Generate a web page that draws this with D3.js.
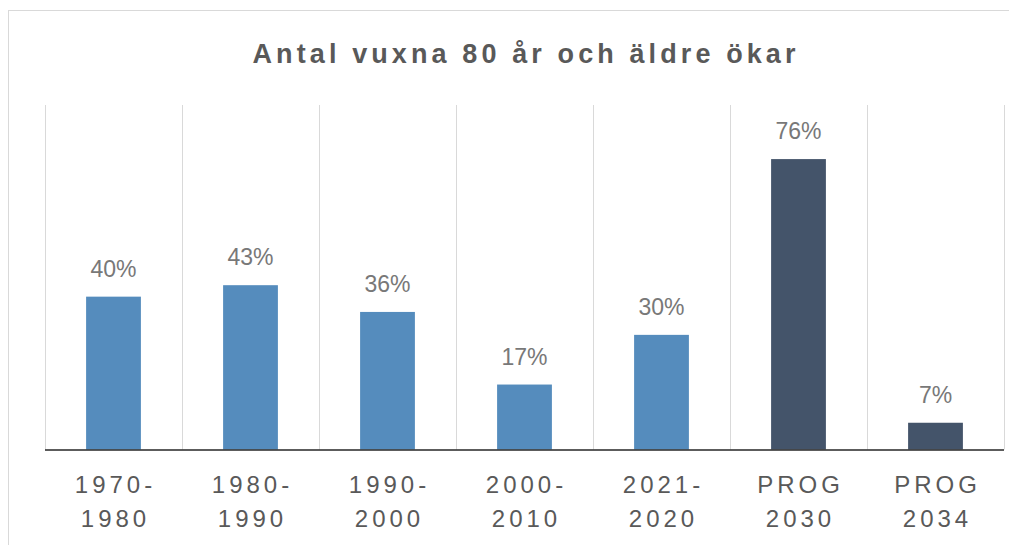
<!DOCTYPE html>
<html>
<head>
<meta charset="utf-8">
<script src="https://cdn.jsdelivr.net/npm/d3@7"></script>
<style>
  body { margin: 0; background: #fff; }
  svg { display: block; }
</style>
</head>
<body>
<svg id="chart"></svg>
<script>
const width = 1009;
const height = 545;

// data
const title = "Antal vuxna 80 år och äldre ökar";
const categories = ["1970-1980", "1980-1990", "1990-2000", "2000-2010", "2021-2020", "PROG 2030", "PROG 2034"];
const tickLines = [["1970-", "1980"], ["1980-", "1990"], ["1990-", "2000"], ["2000-", "2010"], ["2021-", "2020"], ["PROG", "2030"], ["PROG", "2034"]];
const values = [40, 43, 36, 17, 30, 76, 7];
const isForecast = [false, false, false, false, false, true, true];

const blue = "#558cbd";
const navy = "#44546a";

const svg = d3.select("#chart")
    .attr("width", width)
    .attr("height", height);

// fond + cadre
svg.append("rect")
    .attr("x", 8.5).attr("y", 10.5)
    .attr("width", 1010).attr("height", 545)
    .attr("fill", "#fff")
    .attr("stroke", "#d9d9d9");

const x = d3.scaleBand()
    .domain(categories)
    .range([45, 1004])
    .padding(0);

const y = d3.scaleLinear()
    .domain([0, 89.5])
    .range([449.5, 107.5]);

// lignes verticales entre catégories
const gridX = categories.map(c => x(c)).concat([x.range()[1]]);
svg.append("g")
    .attr("stroke", "#d9d9d9")
    .attr("stroke-width", 1)
  .selectAll("line")
  .data(gridX)
  .join("line")
    .attr("x1", d => Math.round(d) + 0.5)
    .attr("x2", d => Math.round(d) + 0.5)
    .attr("y1", 105)
    .attr("y2", y(0));

// barres
const barW = x.bandwidth() * 0.4;
svg.append("g")
  .selectAll("rect")
  .data(values)
  .join("rect")
    .attr("x", (d, i) => x(categories[i]) + (x.bandwidth() - barW) / 2)
    .attr("y", d => y(d))
    .attr("width", barW)
    .attr("height", d => y(0) - y(d))
    .attr("fill", (d, i) => isForecast[i] ? navy : blue);

// axe du bas
svg.append("line")
    .attr("x1", 45).attr("x2", 1004)
    .attr("y1", y(0) + 0.5).attr("y2", y(0) + 0.5)
    .attr("stroke", "#262626")
    .attr("stroke-width", 1.5);

// étiquettes de valeurs
svg.append("g")
    .attr("font-family", "'Liberation Sans', Arial, sans-serif")
    .attr("font-size", 23)
    .attr("fill", "#787878")
    .attr("text-anchor", "middle")
  .selectAll("text")
  .data(values)
  .join("text")
    .attr("x", (d, i) => x(categories[i]) + x.bandwidth() / 2)
    .attr("y", d => y(d) - 20)
    .text(d => d + "%");

// étiquettes des catégories
const ls = 4;
const tickG = svg.append("g")
    .attr("font-family", "'Liberation Sans', Arial, sans-serif")
    .attr("font-size", 24)
    .attr("fill", "#595959")
    .attr("letter-spacing", ls)
    .attr("text-anchor", "middle")
  .selectAll("text")
  .data(tickLines)
  .join("text")
    .attr("transform", (d, i) => `translate(${x(categories[i]) + x.bandwidth() / 2 + ls / 2},0)`);

tickG.selectAll("tspan")
  .data(d => d)
  .join("tspan")
    .attr("x", 0)
    .attr("y", (d, j) => 493 + j * 34)
    .text(d => d);

// titre
const t = svg.append("text")
    .attr("x", 524)
    .attr("y", 63)
    .attr("font-family", "'Liberation Sans', Arial, sans-serif")
    .attr("font-size", 27)
    .attr("font-weight", "bold")
    .attr("fill", "#595959")
    .text(title);

// ajuster l'espacement pour la largeur voulue
const natural = t.node().getComputedTextLength();
const spacing = (543 - natural) / (title.length - 1);
t.attr("letter-spacing", spacing)
  .attr("x", 524 - 543 / 2);
</script>
</body>
</html>
